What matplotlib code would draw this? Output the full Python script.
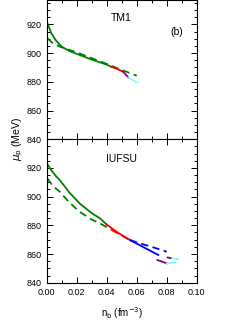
import matplotlib.pyplot as plt
from matplotlib.ticker import MultipleLocator, FormatStrFormatter

plt.rcParams['font.family'] = ['Liberation Sans', 'DejaVu Sans']

# TM1 (top panel)
tm1_green_x = [0.0005, 0.003, 0.006, 0.01, 0.015, 0.02, 0.03, 0.04, 0.043]
tm1_green_y = [920.7, 914, 909, 904.5, 901.5, 899.5, 895.5, 892, 890.5]
tm1_red_x = [0.043, 0.047, 0.051]
tm1_red_y = [890.5, 889, 887]
tm1_purple_x = [0.051, 0.0545]
tm1_purple_y = [887, 883]
tm1_cyan_x = [0.0545, 0.06]
tm1_cyan_y = [883, 879.6]
tm1_dash_x = [0.0005, 0.004, 0.009, 0.02, 0.03, 0.04, 0.05, 0.06]
tm1_dash_y = [910.3, 907, 904.4, 900.5, 896.5, 892.5, 888.3, 884.3]

# IUFSU (bottom panel)
iu_green_x = [0.0005, 0.003, 0.006, 0.009, 0.015, 0.022, 0.03, 0.0356, 0.04]
iu_green_y = [922.6, 918.5, 914.5, 911.2, 903, 895.2, 888.5, 884.8, 880.5]
iu_red_x = [0.04, 0.048, 0.0556]
iu_red_y = [880.5, 874.5, 869.7]
iu_blue_x = [0.0556, 0.065, 0.0744]
iu_blue_y = [869.7, 864.5, 859.3]
iu_purple_x = [0.0738, 0.08]
iu_purple_y = [855.8, 853.5]
iu_cyan_x = [0.08, 0.0856]
iu_cyan_y = [853.5, 853.9]

iu_dgreen_x = [0.0005, 0.004, 0.0089, 0.015, 0.022, 0.03, 0.0356, 0.0433]
iu_dgreen_y = [912.6, 907.5, 903.3, 896, 889.4, 884, 881.3, 876.7]
iu_dred_x = [0.0433, 0.05, 0.0556]
iu_dred_y = [876.7, 872.8, 869.7]
iu_dblue_x = [0.0556, 0.0622, 0.0711, 0.08]
iu_dblue_y = [869.7, 867.4, 864.6, 861.6]
iu_dpurple_x = [0.08, 0.0833]
iu_dpurple_y = [857.7, 857]
iu_dcyan_x = [0.0833, 0.089]
iu_dcyan_y = [857, 856.2]

y_ticks = [840, 860, 880, 900, 920]

green = '#008000'
red = '#ff0000'
blue = '#0000ff'
purple = '#800080'
cyan = '#80ffff'
lw = 1.3
dash = (0, (4, 2.5))

fig = plt.figure(figsize=(2.49, 3.23), dpi=100)
ax1 = fig.add_axes([0.1876, 0.1248 + 143.4 / 323, 0.6024, 139.3 / 323])
ax2 = fig.add_axes([0.1876, 0.1248, 0.6024, 143.4 / 323])

ax1.plot(tm1_dash_x, tm1_dash_y, color=green, lw=lw, linestyle=dash)
ax1.plot(tm1_green_x, tm1_green_y, color=green, lw=lw)
ax1.plot(tm1_red_x, tm1_red_y, color=red, lw=lw)
ax1.plot(tm1_purple_x, tm1_purple_y, color=purple, lw=lw)
ax1.plot(tm1_cyan_x, tm1_cyan_y, color=cyan, lw=lw)

ax2.plot(iu_dgreen_x, iu_dgreen_y, color=green, lw=lw, linestyle=dash)
ax2.plot(iu_dred_x, iu_dred_y, color=red, lw=lw, linestyle=dash)
ax2.plot(iu_dblue_x, iu_dblue_y, color=blue, lw=lw, linestyle=dash)
ax2.plot(iu_dpurple_x, iu_dpurple_y, color=purple, lw=lw, linestyle=dash)
ax2.plot(iu_dcyan_x, iu_dcyan_y, color=cyan, lw=lw, linestyle=dash)
ax2.plot(iu_green_x, iu_green_y, color=green, lw=lw)
ax2.plot(iu_red_x, iu_red_y, color=red, lw=lw)
ax2.plot(iu_blue_x, iu_blue_y, color=blue, lw=lw)
ax2.plot(iu_purple_x, iu_purple_y, color=purple, lw=lw)
ax2.plot(iu_cyan_x, iu_cyan_y, color=cyan, lw=lw)

for ax in (ax1, ax2):
    ax.xaxis.set_major_locator(MultipleLocator(0.02))
    ax.xaxis.set_minor_locator(MultipleLocator(0.01))
    ax.xaxis.set_major_formatter(FormatStrFormatter('%.2f'))
    ax.set_yticks(y_ticks)
    ax.yaxis.set_minor_locator(MultipleLocator(5))
    ax.set_xlim(0, 0.1)
    ax.tick_params(which='both', direction='in', top=True, right=True, labelsize=6.5, width=0.7)
    ax.tick_params(which='major', length=4)
    ax.tick_params(which='minor', length=2)
    for s in ax.spines.values():
        s.set_linewidth(0.8)

ax1.set_ylim(840, 937)
ax2.set_ylim(840, 940)
ax1.tick_params(labelbottom=False)

ax1.text(0.5, 0.87, 'TM1', transform=ax1.transAxes, ha='center', va='center', fontsize=7.5)
ax1.text(0.87, 0.77, '(b)', transform=ax1.transAxes, ha='center', va='center', fontsize=7.5)
ax2.text(0.5, 0.86, 'IUFSU', transform=ax2.transAxes, ha='center', va='center', fontsize=7.5)

ax2.set_xlabel(r'n$_{\mathrm{b}}$ (fm$^{-3}$)', fontsize=7, labelpad=6)
fig.text(0.07, 0.57, r'$\mu_{\mathrm{p}}$ (MeV)', rotation=90, ha='center', va='center', fontsize=7.5)

fig.savefig('out.png', dpi=100)
